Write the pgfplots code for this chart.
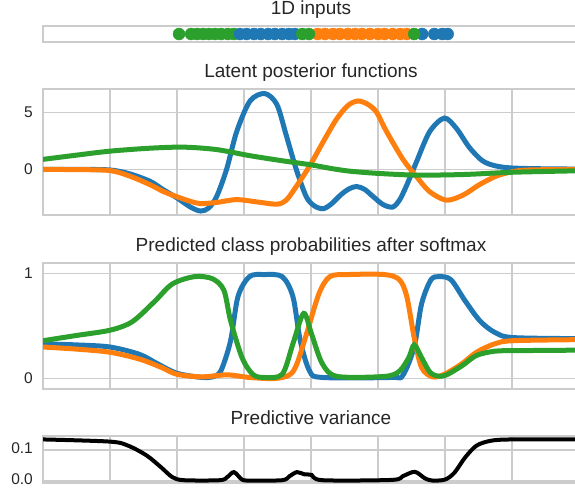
\documentclass[border=0pt]{standalone}
\usepackage{pgfplots}
\pgfplotsset{compat=1.18}
\usepackage{fontspec}
\setmainfont{Liberation Sans}
\definecolor{tblue}{HTML}{1F77B4}
\definecolor{torange}{HTML}{FF7F0E}
\definecolor{tgreen}{HTML}{2CA02C}
\definecolor{gridc}{HTML}{CCCCCC}
\definecolor{txt}{HTML}{262626}
\pgfplotsset{
  base/.style={scale only axis, width=536pt, xmin=0, xmax=8,
    xtick={0,...,7}, xticklabels={},
    major tick length=0pt, grid=major,
    major grid style={line width=1.3pt, color=gridc},
    axis line style={line width=2pt, color=gridc},
    tick label style={font=\fontsize{15.5}{18}\selectfont, text=txt},
    /pgf/number format/assume math mode=true,
    yticklabel style={anchor=east, inner sep=0pt, xshift=-10pt},
    title style={font=\fontsize{19}{22}\selectfont, text=txt, at={(0.5,1)}, anchor=base, yshift=6pt},
    anchor=north west},
  crv/.style={line width=5pt, smooth, tension=0.5},
}
\begin{document}
\begin{tikzpicture}
% Panel 1
\begin{axis}[base, at={(43pt,-26pt)}, height=16pt, ymin=-1, ymax=1,
  xtick=\empty, ytick=\empty, grid=none, title={1D inputs}]
\addplot[only marks, mark=*, mark size=6pt, color=tgreen] coordinates {
(2.03,0) (2.21,0) (2.30,0) (2.39,0) (2.48,0) (2.57,0) (2.66,0) (2.76,0) (2.85,0)};
\addplot[only marks, mark=*, mark size=6pt, color=tblue] coordinates {
(2.94,0) (3.04,0) (3.15,0) (3.25,0) (3.36,0) (3.46,0) (3.57,0) (3.67,0) (3.76,0)
(5.66,0) (5.84,0) (5.96,0) (6.04,0)};
\addplot[only marks, mark=*, mark size=6pt, color=torange] coordinates {
(4.10,0) (4.21,0) (4.33,0) (4.43,0) (4.55,0) (4.66,0) (4.76,0) (4.88,0) (5.00,0)
(5.10,0) (5.22,0) (5.33,0) (5.43,0)};
\addplot[only marks, mark=*, mark size=6pt, color=tgreen] coordinates {
(3.87,0) (3.97,0) (5.54,0)};
\end{axis}
% Panel 2
\begin{axis}[base, at={(43pt,-89pt)}, height=126pt, ymin=-4.0, ymax=7.05,
  ytick={0,5}, title={Latent posterior functions}]
\addplot[crv, tblue] coordinates {
(0,0) (0.5,0) (1.0,-0.05) (1.3,-0.4) (1.6,-1.05) (1.8,-1.8) (2.0,-2.5) (2.2,-3.3)
(2.35,-3.65) (2.47,-3.4) (2.59,-2.4) (2.74,0) (2.89,3.3) (3.09,6.0) (3.31,6.65)
(3.49,5.7) (3.63,3.0) (3.78,0) (3.93,-2.4) (4.05,-3.2) (4.18,-3.45) (4.30,-3.05)
(4.45,-2.2) (4.57,-1.7) (4.68,-1.5) (4.80,-1.75) (4.93,-2.4) (5.08,-3.1) (5.22,-3.3)
(5.32,-2.7) (5.42,-1.5) (5.57,0.6) (5.77,3.3) (5.99,4.5) (6.17,3.6) (6.36,1.95)
(6.56,0.75) (6.76,0.3) (7.01,0.12) (7.5,0.05) (8,0.03)};
\addplot[crv, torange] coordinates {
(0,0) (0.5,-0.02) (1.0,-0.1) (1.3,-0.6) (1.6,-1.35) (1.8,-1.95) (2.0,-2.4) (2.2,-2.8)
(2.35,-3.0) (2.59,-2.9) (2.89,-2.65) (3.19,-2.85) (3.49,-3.05) (3.63,-2.7) (3.78,-1.5)
(3.98,0.3) (4.18,2.4) (4.38,4.4) (4.55,5.6) (4.70,6.0) (4.85,5.7) (4.98,5.0)
(5.12,3.4) (5.37,0.9) (5.57,-0.6) (5.77,-1.95) (6.02,-2.7) (6.27,-2.25) (6.51,-1.35)
(6.76,-0.6) (7.01,-0.2) (7.26,-0.05) (8,0)};
\addplot[crv, tgreen] coordinates {
(0,0.88) (0.5,1.25) (1.0,1.6) (1.6,1.86) (2.1,1.95) (2.59,1.74) (3.09,1.2)
(3.58,0.75) (4.0,0.4) (4.28,0.1) (4.57,-0.15) (5.0,-0.35) (5.57,-0.5) (6.27,-0.45)
(7.01,-0.25) (8,-0.12)};
\end{axis}
% Panel 3
\begin{axis}[base, at={(43pt,-263pt)}, height=126pt, ymin=-0.1, ymax=1.1,
  ytick={0,1}, title={Predicted class probabilities after softmax}]
\addplot[crv, tblue] coordinates {
(0,0.33) (0.5,0.32) (1.0,0.30) (1.44,0.23) (1.71,0.14) (2.0,0.05) (2.37,0.01)
(2.55,0.02) (2.66,0.08) (2.80,0.36) (2.91,0.78) (3.08,0.97) (3.30,0.99) (3.57,0.97)
(3.73,0.78) (3.84,0.36) (3.98,0.07) (4.17,0.01) (5.2,0.01) (5.37,0.03) (5.54,0.3)
(5.65,0.71) (5.79,0.94) (5.92,0.97) (6.09,0.94) (6.30,0.74) (6.52,0.55) (6.74,0.44)
(7.01,0.39) (8,0.38)};
\addplot[crv, torange] coordinates {
(0,0.30) (0.5,0.28) (1.0,0.25) (1.44,0.185) (1.77,0.105) (2.0,0.04) (2.37,0.016)
(2.75,0.035) (3.08,0.01) (3.46,0.0) (3.68,0.035) (3.79,0.14) (3.95,0.46) (4.12,0.81)
(4.28,0.97) (4.55,0.99) (5.10,0.99) (5.32,0.94) (5.43,0.78) (5.54,0.39) (5.65,0.105)
(5.81,0.016) (5.99,0.04) (6.25,0.14) (6.47,0.25) (6.74,0.33) (7.01,0.36) (8,0.37)};
\addplot[crv, tgreen] coordinates {
(0,0.36) (0.5,0.41) (1.0,0.46) (1.33,0.54) (1.66,0.73) (1.93,0.90) (2.26,0.97)
(2.53,0.95) (2.70,0.84) (2.80,0.55) (2.97,0.2) (3.13,0.04) (3.30,0.01) (3.57,0.04)
(3.73,0.33) (3.89,0.62) (4.01,0.42) (4.17,0.14) (4.39,0.02) (5.10,0.02) (5.32,0.07)
(5.46,0.2) (5.54,0.32) (5.65,0.2) (5.79,0.05) (5.98,0.025) (6.25,0.12) (6.47,0.22)
(6.74,0.26) (7.01,0.265) (8,0.27)};
\end{axis}
% Panel 4
\begin{axis}[base, at={(43pt,-436pt)}, height=47pt, ymin=-0.006, ymax=0.145,
  ytick={0,0.1}, yticklabels={0.0,0.1}, yticklabel style={yshift=1.5pt},
  title={Predictive variance}]
\addplot[line width=4pt, smooth, tension=0.5, black] coordinates {
(0,0.134) (1.0,0.127) (1.27,0.114) (1.55,0.082) (1.77,0.043) (1.93,0.013) (2.1,0.003)
(2.64,0.003) (2.75,0.013) (2.85,0.029) (2.97,0.005) (3.08,0.002) (3.57,0.003)
(3.68,0.016) (3.79,0.029) (3.90,0.022) (4.01,0.02) (4.17,0.003) (5.21,0.004)
(5.37,0.016) (5.55,0.03) (5.70,0.009) (5.81,0.002) (6.0,0.005) (6.14,0.027)
(6.30,0.076) (6.47,0.114) (6.69,0.13) (7.01,0.134) (8,0.134)};
\end{axis}
\pgfresetboundingbox
\path[use as bounding box] (0,0) rectangle (575pt,-488pt);
\end{tikzpicture}
\end{document}
